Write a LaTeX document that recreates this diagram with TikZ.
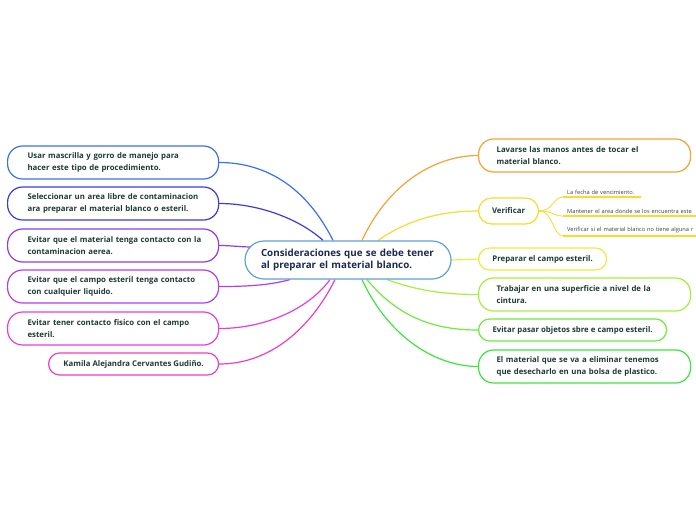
\documentclass[tikz,border=0pt]{standalone}
\usepackage{fontspec}
\setmainfont{Open Sans}
\usetikzlibrary{backgrounds}
\definecolor{textc}{HTML}{1E3B33}
\definecolor{ctext}{HTML}{1B2A4E}
\definecolor{cen}{HTML}{5FA0D8}
\definecolor{cA}{HTML}{3B6FF5}
\definecolor{cB}{HTML}{3A3AE6}
\definecolor{cC}{HTML}{8A3CF0}
\definecolor{cD}{HTML}{B43CF0}
\definecolor{cE}{HTML}{E83CE0}
\definecolor{cF}{HTML}{F03CC8}
\definecolor{rA}{HTML}{F7A233}
\definecolor{rB}{HTML}{F7DC2C}
\definecolor{rC}{HTML}{E6F03C}
\definecolor{rD}{HTML}{A6F03C}
\definecolor{rE}{HTML}{6EEC3C}
\definecolor{rF}{HTML}{3CE63C}
\begin{document}
\begin{tikzpicture}[x=1pt,y=-1pt,
  leaf/.style={draw=#1, line width=1.2pt, fill=white, rounded corners=15pt,
    font=\bfseries\fontsize{7.8}{12}\selectfont, text=textc, align=left,
    minimum height=33pt, inner ysep=3pt, anchor=west},
  pill/.style={draw=#1, line width=1.2pt, fill=white, rounded corners=11pt,
    font=\bfseries\fontsize{7.8}{12}\selectfont, text=textc, align=center,
    minimum height=22pt, inner ysep=2pt, anchor=west},
  conn/.style={draw=#1, line width=1.2pt},
  sub/.style={font=\fontsize{5.7}{7}\selectfont, text=black!75, anchor=south west,
    inner xsep=4pt, inner ysep=2.5pt, align=left, text width=#1},
  subline/.style={draw=rB, line width=1.8pt},
  subconn/.style={draw=rB, line width=0.8pt},
]
\useasboundingbox (0,0) rectangle (696,520);
% centre
\node[draw=cen, line width=1.2pt, fill=white, rounded corners=19pt,
  minimum width=206pt, minimum height=38pt, text width=174pt, inner xsep=16pt,
  align=left, font=\bfseries\fontsize{9.8}{12}\selectfont, text=ctext]
  (c) at (348,260) {\mbox{Consideraciones que se debe tener}\\\mbox{al preparar el material blanco.}};
% left
\node[leaf=cA, text width=171pt, inner xsep=20pt] (l1) at (7,162.5)
  {\mbox{Usar mascrilla y gorro de manejo para}\\\mbox{hacer este tipo de procedimiento.}};
\node[leaf=cB, text width=171pt, inner xsep=20pt] (l2) at (7,203.5)
  {\mbox{Seleccionar un area libre de contaminacion}\\\mbox{ara preparar el material blanco o esteril.}};
\node[leaf=cC, text width=171pt, inner xsep=20pt] (l3) at (7,245.5)
  {\mbox{Evitar que el material tenga contacto con la}\\\mbox{contaminacion aerea.}};
\node[leaf=cD, text width=171pt, inner xsep=20pt] (l4) at (7,286.5)
  {\mbox{Evitar que el campo esteril tenga contacto}\\\mbox{con cualquier liquido.}};
\node[leaf=cE, text width=171pt, inner xsep=20pt] (l5) at (7,328.5)
  {\mbox{Evitar tener contacto fisico con el campo}\\\mbox{esteril.}};
\node[pill=cF, minimum width=170pt] (l6) at (48,364) {Kamila Alejandra Cervantes Gudiño.};
% right
\node[leaf=rA, text width=176pt, inner xsep=18pt] (r1) at (478,155.5)
  {\mbox{Lavarse las manos antes de tocar el}\\\mbox{material blanco.}};
\node[pill=rB, minimum width=60pt, minimum height=26pt, rounded corners=13pt] (r2) at (478,211) {Verificar};
\node[pill=rC, minimum width=128pt] (r3) at (478,259) {Preparar el campo esteril.};
\node[leaf=rD, text width=176pt, inner xsep=18pt] (r4) at (478,294.5)
  {\mbox{Trabajar en una superficie a nivel de la}\\\mbox{cintura.}};
\node[pill=rE, minimum width=188pt] (r5) at (478,330) {Evitar pasar objetos sbre e campo esteril.};
\node[leaf=rF, text width=176pt, inner xsep=18pt] (r6) at (478,366.5)
  {\mbox{El material que se va a eliminar tenemos}\\\mbox{que desecharlo en una bolsa de plastico.}};
% sub items of Verificar
\node[sub=70pt] (s1) at (563,197) {La fecha de vencimiento.};
\node[sub=160pt] (s2) at (563,216) {\mbox{Mantener el area donde se los encuentra este}};
\node[sub=160pt] (s3) at (563,236) {\mbox{Verificar si el material blanco no tiene alguna r}};
\draw[subline] (s1.south west) -- (s1.south east);
\draw[subline] (s2.south west) -- (s2.south east);
\draw[subline] (s3.south west) -- (s3.south east);
\begin{scope}[on background layer]
\draw[conn=cA] ([xshift=-15pt]c.north) .. controls +(-26,-52) and +(48,0) .. (l1.east);
\draw[conn=cB] ([xshift=-25pt]c.north) .. controls +(-23,-21) and +(40,0) .. (l2.east);
\draw[conn=cC] ([xshift=8pt,yshift=13pt]c.west) .. controls +(-12,0) and +(12,0) .. (l3.east);
\draw[conn=cD] ([xshift=-58pt]c.south) .. controls +(-22,6) and +(25,0) .. (l4.east);
\draw[conn=cE] ([xshift=-18pt]c.south) .. controls +(-22,30) and +(45,0) .. (l5.east);
\draw[conn=cF] ([xshift=-13pt]c.south) .. controls +(-25,50) and +(50,0) .. (l6.east);
\draw[conn=rA] ([xshift=14pt]c.north) .. controls +(28,-60) and +(-40,0) .. (r1.west);
\draw[conn=rB] ([xshift=30pt]c.north) .. controls +(32,-22) and +(-35,0) .. (r2.west);
\draw[conn=rC] (c.east) -- (r3.west);
\draw[conn=rD] ([xshift=39pt]c.south) .. controls +(33,12) and +(-30,0) .. (r4.west);
\draw[conn=rE] ([xshift=19pt]c.south) .. controls +(33,40) and +(-40,0) .. (r5.west);
\draw[conn=rF] ([xshift=14pt]c.south) .. controls +(28,60) and +(-40,0) .. (r6.west);
\draw[subconn] (r2.east) .. controls +(14,0) and +(-10,0) .. (s1.south west);
\draw[subconn] (r2.east) .. controls +(14,0) and +(-10,0) .. (s2.south west);
\draw[subconn] (r2.east) .. controls +(14,0) and +(-10,0) .. (s3.south west);
\end{scope}
\end{tikzpicture}
\end{document}
